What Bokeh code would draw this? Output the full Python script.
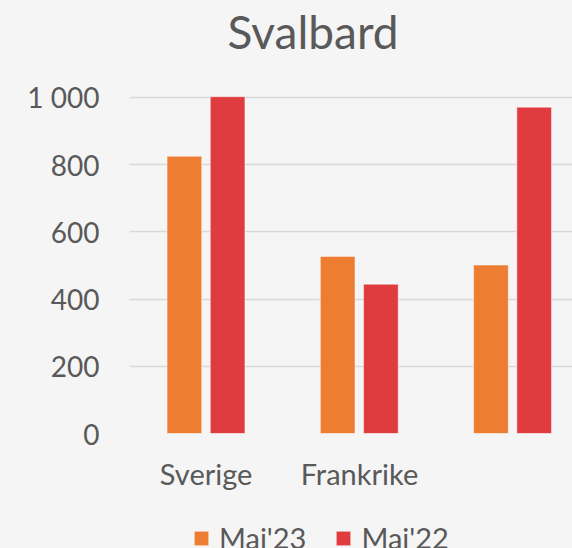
from bokeh.plotting import figure
from bokeh.models import (ColumnDataSource, Range1d, FixedTicker, Legend, LegendItem)
from bokeh.layouts import column
from bokeh.transform import dodge
from bokeh.embed import file_html
from bokeh.resources import INLINE

# ---- data ----
categories = ["Sverige", "Frankrike", ""]
mai23 = [825, 527, 501]
mai22 = [1002, 444, 971]
y_ticks = [0, 200, 400, 600, 800, 1000]
y_tick_labels = ["0", "200", "400", "600", "800", "1 000"]
series_names = ["Mai'23", "Mai'22"]
title_text = "Svalbard"

BG = "#f5f5f5"
TXT = "#595959"
ORANGE = "#ED7D31"
RED = "#E03C40"
FONT = "Lato"

idx = list(range(len(categories)))
src = ColumnDataSource(dict(x=idx, a=mai23, b=mai22))

p = figure(width=572, height=500, output_backend="svg", toolbar_location=None,
           x_range=Range1d(-0.5, 2.39), y_range=Range1d(0, 1100.9),
           min_border_left=129, min_border_right=0, min_border_top=62, min_border_bottom=67,
           styles={"background-color": BG})
p.background_fill_color = BG
p.border_fill_color = BG
p.outline_line_color = None

r1 = p.vbar(x=dodge("x", -0.142), top="a", width=0.226, source=src,
            fill_color=ORANGE, line_color="white", line_alpha=0.45, line_width=1)
r2 = p.vbar(x=dodge("x", 0.140), top="b", width=0.226, source=src,
            fill_color=RED, line_color="white", line_alpha=0.45, line_width=1)

# title
p.title.text = title_text
p.title.text_font = FONT
p.title.text_font_size = "46px"
p.title.text_font_style = "normal"
p.title.text_color = TXT
p.title.align = "left"
p.title.offset = 98
p.title.standoff = 6
p.title.vertical_align = "top"

# y axis
p.yaxis.ticker = FixedTicker(ticks=y_ticks)
p.yaxis.major_label_overrides = {t: l for t, l in zip(y_ticks, y_tick_labels)}
p.yaxis.axis_line_color = None
p.yaxis.major_tick_line_color = None
p.yaxis.minor_tick_line_color = None
p.yaxis.major_tick_out = 0
p.yaxis.major_label_standoff = 30
p.yaxis.major_label_text_font = FONT
p.yaxis.major_label_text_font_size = "28px"
p.yaxis.major_label_text_color = TXT

# x axis
p.xaxis.ticker = FixedTicker(ticks=idx)
p.xaxis.major_label_overrides = {i: c for i, c in zip(idx, categories)}
p.xaxis.axis_line_color = None
p.xaxis.major_tick_line_color = None
p.xaxis.minor_tick_line_color = None
p.xaxis.major_tick_out = 0
p.xaxis.major_label_standoff = 22
p.xaxis.major_label_text_font = FONT
p.xaxis.major_label_text_font_size = "29px"
p.xaxis.major_label_text_color = TXT

p.xgrid.grid_line_color = None
p.ygrid.ticker = FixedTicker(ticks=y_ticks)
p.ygrid.grid_line_color = "#d9d9d9"
p.ygrid.grid_line_width = 1.5

# legend strip (a second figure below, cut by the bottom edge as in the reference)
leg = figure(width=572, height=48, output_backend="svg", toolbar_location=None,
             title=None, x_axis_location=None, y_axis_location=None,
             x_range=Range1d(-0.5, 2.39), y_range=Range1d(0, 1100.9), min_border=0,
             styles={"background-color": BG})
leg.background_fill_color = BG
leg.border_fill_color = BG
leg.outline_line_color = None
leg.grid.grid_line_color = None
l1 = leg.vbar(x="x", top="a", width=0.226, source=src, fill_color=ORANGE,
              line_color="white", line_alpha=0.45, visible=False)
l2 = leg.vbar(x="x", top="b", width=0.226, source=src, fill_color=RED,
              line_color="white", line_alpha=0.45, visible=False)

legend = Legend(items=[LegendItem(label=series_names[0], renderers=[l1]),
                       LegendItem(label=series_names[1], renderers=[l2])],
                location=(63, -7), orientation="horizontal",
                padding=0, margin=0, spacing=28, label_standoff=9,
                glyph_width=18, glyph_height=18,
                label_text_font=FONT, label_text_font_size="29px", label_text_color=TXT,
                background_fill_alpha=0, border_line_color=None)
leg.add_layout(legend, "center")

layout = column(p, leg, spacing=0, styles={"background-color": BG})
open("out.html", "w").write(file_html(layout, INLINE))
